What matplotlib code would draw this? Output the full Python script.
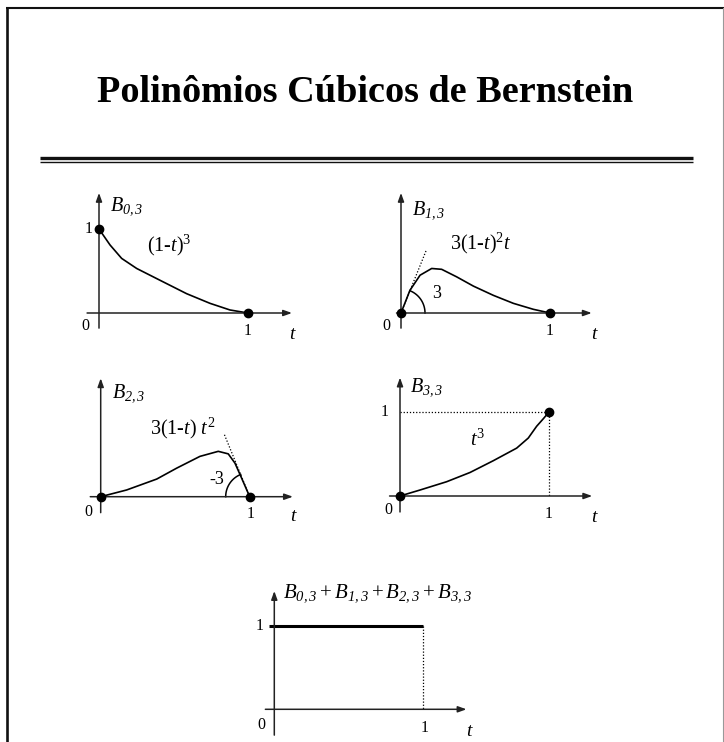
import numpy as np
import matplotlib
matplotlib.use("Agg")
import matplotlib.pyplot as plt

plt.rcParams['font.family'] = ['Liberation Serif', 'DejaVu Serif']
plt.rcParams['mathtext.fontset'] = 'custom'
plt.rcParams['mathtext.rm'] = 'Liberation Serif'
plt.rcParams['mathtext.it'] = 'Liberation Serif:italic'
plt.rcParams['mathtext.sf'] = 'Liberation Serif:italic'

title = "Polinômios Cúbicos de Bernstein"

# curves (t, value)
b03_t = [0, 0.074, 0.152, 0.253, 0.409, 0.588, 0.745, 0.879, 1]
b03_v = [1, 0.81, 0.65, 0.53, 0.39, 0.23, 0.115, 0.036, 0]
b13_t = [0, 0.06, 0.128, 0.206, 0.273, 0.374, 0.486, 0.62, 0.754, 0.888, 1]
b13_v = [0, 0.27, 0.45, 0.53, 0.52, 0.43, 0.32, 0.21, 0.115, 0.044, 0]
b23_t = [0, 0.174, 0.376, 0.51, 0.666, 0.789, 0.856, 0.901, 0.946, 1]
b23_v = [0, 0.08, 0.21, 0.34, 0.48, 0.54, 0.51, 0.40, 0.22, 0]
b33_t = [0, 0.134, 0.313, 0.47, 0.626, 0.783, 0.861, 0.917, 0.962, 1]
b33_v = [0, 0.071, 0.17, 0.28, 0.42, 0.57, 0.69, 0.83, 0.92, 1]
sum_t = [-0.034, 1]
sum_v = [1, 1]

# end points (t, value) of the curves
b03_dots = ([0, 1], [1, 0])
b13_dots = ([0, 1], [0, 0])
b23_dots = ([0, 1], [0, 0])
b33_dots = ([0, 1], [0, 1])

# tangent lines (t, value)
b13_tan = ([0, 0.168], [0, 0.74])
b23_tan = ([1, 0.83], [0, 0.74])
b13_slope = "3"
b23_slope = "-3"

labels_B = [r"$B_{\mathsf{0,3}}$", r"$B_{\mathsf{1,3}}$", r"$B_{\mathsf{2,3}}$", r"$B_{\mathsf{3,3}}$"]
labels_f = ["(1-$t)^3$", "3(1-$t)^2t$", "3(1-$t$) $t^2$", "$t^3$"]
label_sum = r"$B_{\mathsf{0,3}} + B_{\mathsf{1,3}} + B_{\mathsf{2,3}} + B_{\mathsf{3,3}}$"

W, H = 724, 742
UX = 149
fig = plt.figure(figsize=(W / 100, H / 100), dpi=100)

# slide frame, title, double rule
bg = fig.add_axes([0, 0, 1, 1])
bg.set_xlim(0, W)
bg.set_ylim(H, 0)
bg.axis('off')
bg.plot([7, 7], [8, H], color='#111', lw=1.9, solid_capstyle='butt')
bg.plot([6, W], [8.2, 8.2], color='#111', lw=1.5, solid_capstyle='butt')
bg.plot([723, 723], [8, H], color='#999', lw=0.8)
bg.plot([40, 693], [157.7, 157.7], color='#111', lw=2.4, solid_capstyle='butt')
bg.plot([40, 693], [161.7, 161.7], color='#111', lw=1.0, solid_capstyle='butt')
bg.text(365.5, 102, title, ha='center', va='baseline', fontsize=27.5, fontweight='bold')

XL = (-0.2, 1.45)
YL = (-0.4, 1.5)
AX_LW = 1.1
ARROW = dict(arrowstyle='-|>,head_length=0.5,head_width=0.18', lw=AX_LW,
             color='#222', shrinkA=0, shrinkB=0, mutation_scale=10)
FS_TICK = 11.5
FS_T = 14
FS_B = 14.5
FS_F = 14.5


def panel(ox, oy, uy, xa, ya):
    left = (ox + XL[0] * UX) / W
    width = (XL[1] - XL[0]) * UX / W
    bottom = (H - (oy - YL[0] * uy)) / H
    height = (YL[1] - YL[0]) * uy / H
    ax = fig.add_axes([left, bottom, width, height])
    ax.set_xlim(XL)
    ax.set_ylim(YL)
    ax.axis('off')
    ax.annotate('', xy=(xa[1], 0), xytext=(xa[0], 0), arrowprops=ARROW)
    ax.annotate('', xy=(0, ya[1]), xytext=(0, ya[0]), arrowprops=ARROW)
    return ax


def ticks(ax, zero, one_x, t_pos, one_y=None):
    ax.text(zero[0], zero[1], "0", ha='center', va='center', fontsize=FS_TICK)
    ax.text(one_x[0], one_x[1], "1", ha='center', va='center', fontsize=FS_TICK)
    ax.text(t_pos[0], t_pos[1], "$t$", ha='center', va='center', fontsize=FS_T)
    if one_y is not None:
        ax.text(one_y[0], one_y[1], "1", ha='center', va='center', fontsize=FS_TICK)


def arc(ax, cx, tan, uy, r=24, side=1):
    dx = (tan[0][1] - tan[0][0]) * UX
    dy = (tan[1][1] - tan[1][0]) * uy
    ang = np.arctan2(dy, dx)
    a = np.linspace(0, ang, 40) if side == 1 else np.linspace(ang, np.pi, 40)
    ax.plot(cx + r * np.cos(a) / UX, r * np.sin(a) / uy, color='k', lw=1.1)


CURVE = dict(color='k', lw=1.2)
DOT = dict(ls='none', marker='o', ms=6, color='k', clip_on=False, zorder=5)
DOTTED = dict(color='k', lw=0.9, ls=(0, (1, 1.5)))

# B0,3
uy = 84
ax = panel(99, 313, uy, (-0.08, 1.295), (-0.18, 1.43))
ax.plot(b03_t, b03_v, **CURVE)
ax.plot(*b03_dots, **DOT)
ticks(ax, (-0.094, -0.15), (1.0, -0.21), (1.30, -0.25), one_y=(-0.067, 1.0))
ax.text(0.074, 1.27, labels_B[0], ha='left', va='center', fontsize=FS_B)
ax.text(0.324, 0.81, labels_f[0], ha='left', va='center', fontsize=FS_F)

# B1,3
ax = panel(401, 313, uy, (-0.03, 1.28), (-0.18, 1.43))
ax.plot(*b13_tan, **DOTTED)
ax.plot(b13_t, b13_v, **CURVE)
ax.plot(*b13_dots, **DOT)
arc(ax, 0, b13_tan, uy)
ticks(ax, (-0.096, -0.16), (1.0, -0.21), (1.30, -0.25))
ax.text(0.072, 1.23, labels_B[1], ha='left', va='center', fontsize=FS_B)
ax.text(0.329, 0.83, labels_f[1], ha='left', va='center', fontsize=FS_F)
ax.text(0.24, 0.23, b13_slope, ha='center', va='center', fontsize=13)

# B2,3
ax = panel(100.7, 496.7, uy, (-0.07, 1.29), (-0.19, 1.41))
ax.plot(*b23_tan, **DOTTED)
ax.plot(b23_t, b23_v, **CURVE)
ax.plot(*b23_dots, **DOT)
arc(ax, 1, b23_tan, uy, side=-1)
ticks(ax, (-0.083, -0.18), (1.006, -0.21), (1.30, -0.24))
ax.text(0.074, 1.23, labels_B[2], ha='left', va='center', fontsize=FS_B)
ax.text(0.331, 0.81, labels_f[2], ha='left', va='center', fontsize=FS_F)
ax.text(0.778, 0.2, b23_slope, ha='center', va='center', fontsize=13)

# B3,3
ax = panel(400, 496, uy, (-0.07, 1.29), (-0.19, 1.41))
ax.plot([0, b33_t[-1], b33_t[-1]], [b33_v[-1], b33_v[-1], 0], **DOTTED)
ax.plot(b33_t, b33_v, **CURVE)
ax.plot(*b33_dots, **DOT)
ticks(ax, (-0.079, -0.17), (1.0, -0.21), (1.31, -0.25), one_y=(-0.1, 1.0))
ax.text(0.067, 1.30, labels_B[3], ha='left', va='center', fontsize=FS_B)
ax.text(0.47, 0.67, labels_f[3], ha='left', va='center', fontsize=FS_F)

# sum
uy5 = 83.3
ax = panel(274.3, 709.3, uy5, (-0.06, 1.29), (-0.31, 1.42))
ax.plot([sum_t[-1], sum_t[-1]], [sum_v[-1], 0], **DOTTED)
ax.plot(sum_t, sum_v, color='k', lw=2.2, solid_capstyle='butt')
ticks(ax, (-0.09, -0.19), (1.01, -0.23), (1.31, -0.27), one_y=(-0.096, 1.0))
ax.text(0.06, 1.39, label_sum, ha='left', va='center', fontsize=15)

fig.savefig("out.png", dpi=100)
